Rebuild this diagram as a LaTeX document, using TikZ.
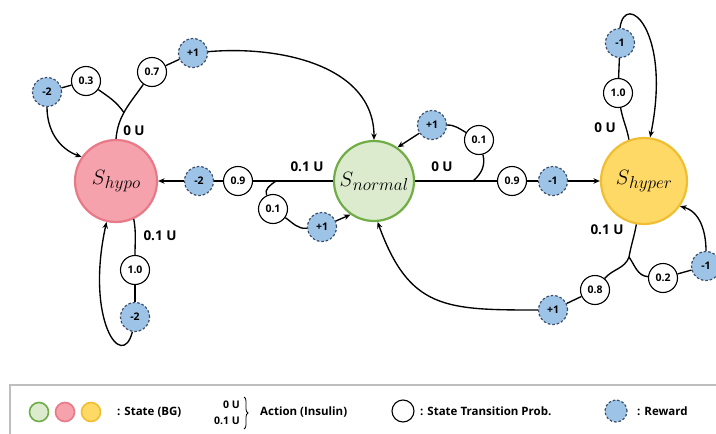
\documentclass[tikz,border=0pt]{standalone}
\usepackage{fontspec}
\setmainfont{Open Sans}
\usetikzlibrary{arrows.meta,decorations.pathreplacing}
\definecolor{hypofill}{RGB}{245,162,172}
\definecolor{hypodraw}{RGB}{232,122,136}
\definecolor{normfill}{RGB}{220,235,206}
\definecolor{normdraw}{RGB}{112,173,71}
\definecolor{hyperfill}{RGB}{255,217,102}
\definecolor{hyperdraw}{RGB}{240,190,50}
\definecolor{rewfill}{RGB}{157,195,230}
\definecolor{rewdraw}{RGB}{60,78,105}
\definecolor{legline}{RGB}{190,190,190}
\newcommand{\stname}[1]{\fontsize{21}{21}\selectfont$S$\kern-0.5pt\raisebox{-4pt}{\fontsize{16}{16}\selectfont$#1$}}
\tikzset{
  stbase/.style={circle, line width=2.2pt, inner sep=0pt},
  hypost/.style={stbase, draw=hypodraw, fill=hypofill, minimum size=82pt},
  normst/.style={stbase, draw=normdraw, fill=normfill, minimum size=80pt},
  hyperst/.style={stbase, draw=hyperdraw, fill=hyperfill, minimum size=86pt},
  prob/.style={circle, draw=black, line width=1.1pt, fill=white, minimum size=29pt, inner sep=0pt, font=\fontsize{10.5}{10.5}\selectfont\bfseries},
  rew/.style={circle, draw=rewdraw, dash pattern=on 2.5pt off 2pt, line width=1.2pt, fill=rewfill, minimum size=29pt, inner sep=0pt, font=\fontsize{10.5}{10.5}\selectfont\bfseries},
  conn/.style={line width=1.35pt, black},
  arr/.style={conn, -{Stealth[length=6.5pt,width=5.5pt]}},
  act/.style={font=\fontsize{13.5}{13.5}\selectfont\bfseries, inner sep=0pt},
  leg/.style={font=\fontsize{11.5}{11.5}\selectfont\bfseries, anchor=west, inner sep=0pt},
  legsm/.style={font=\fontsize{10.5}{10.5}\selectfont\bfseries, anchor=east, inner sep=0pt},
}
\begin{document}
\begin{tikzpicture}[x=1pt,y=-1pt]
\useasboundingbox (0,0) rectangle (716,434);
\clip (0,0) rectangle (716,434);
% states
\node[hypost] (hypo) at (116,181) {\stname{hypo}};
\node[normst] (normal) at (374,181) {\stname{normal}};
\node[hyperst] (hyper) at (644,181) {\stname{hyper}};
% small nodes
\node[rew] (rA) at (47,92) {-2};
\node[prob] (pA) at (86,81) {0.3};
\node[prob] (pB) at (152,72) {0.7};
\node[rew] (rB) at (193,53) {+1};
\node[rew] (rC) at (199,181) {-2};
\node[prob] (pC) at (238,181) {0.9};
\node[prob] (pD) at (273,209) {0.1};
\node[rew] (rD) at (322,227) {+1};
\node[rew] (rE) at (432,125) {+1};
\node[prob] (pE) at (479,140) {0.1};
\node[prob] (pF) at (512,181) {0.9};
\node[rew] (rF) at (553,181) {-1};
\node[prob] (pG) at (618,93) {1.0};
\node[rew] (rG) at (620,43) {-1};
\node[prob] (pH) at (595,290) {0.8};
\node[rew] (rH) at (553,310) {+1};
\node[prob] (pI) at (663,278) {0.2};
\node[rew] (rI) at (706,266) {-1};
\node[prob] (pJ) at (135,270) {1.0};
\node[rew] (rJ) at (135,317) {-2};
% action labels
\node[act] (l1) at (134,131) {0 U};
\node[act] (l2) at (307,167) {0.1 U};
\node[act] (l3) at (442,167) {0 U};
\node[act] (l4) at (605,128) {0 U};
\node[act] (l5) at (607,230) {0.1 U};
\node[act] (l6) at (160,236) {0.1 U};
% hypo, 0 U
\draw[conn] (hypo.north) to[out=85,in=-125] coordinate[pos=0.45] (j1) (pB);
\draw[conn] (j1) to[out=125,in=-35] (pA);
\draw[conn] (pA) -- (rA);
\draw[arr] (rA) to[out=-90,in=160] (hypo.145);
\draw[conn] (pB) -- (rB);
\draw[arr] (rB) to[out=5,in=90] (normal.north);
% normal, 0.1 U
\coordinate (j2) at (276,181);
\draw[conn] (normal.west) -- (pC);
\draw[conn] (pC) -- (rC);
\draw[arr] (rC) -- (hypo.east);
\draw[conn] (j2) to[out=-145,in=115] (pD);
\draw[conn] (pD) to[out=-35,in=185] (rD);
\draw[arr] (rD) -- (normal.-125);
% normal, 0 U
\coordinate (j3) at (473,181);
\draw[conn] (normal.east) -- (pF);
\draw[conn] (pF) -- (rF);
\draw[arr] (rF) -- (hyper.west);
\draw[conn] (j3) to[out=40,in=-75] (pE);
\draw[conn] (pE) to[out=150,in=0] (rE);
\draw[arr] (rE) -- (normal.55);
% hyper, 0 U
\draw[conn] (hyper.110) to[out=100,in=-80] (pG);
\draw[conn] (pG) -- (rG);
\draw[arr] (rG.north) .. controls (625,-10) and (672,30) .. (hyper.82);
% hyper, 0.1 U
\coordinate (j4) at (629,257);
\draw[conn] (hyper.-100) to[out=-100,in=80] (j4);
\draw[conn] (j4) to[out=-110,in=50] (pH);
\draw[conn] (j4) to[out=-55,in=175] (pI);
\draw[conn] (pI) -- (rI);
\draw[arr] (rI) to[out=90,in=-15] (hyper.-35);
\draw[conn] (pH) -- (rH);
\draw[arr] (rH) to[out=180,in=-70,looseness=1.3] (normal.-85);
% hypo, 0.1 U
\draw[conn] (hypo.-65) to[out=-80,in=90] (pJ);
\draw[conn] (pJ) -- (rJ);
\draw[arr] (rJ.-100) .. controls (122,372) and (85,320) .. (hypo.-103);
% legend
\draw[legline, line width=1.2pt] (10,385) rectangle (740,460);
\node[stbase, draw=normdraw, fill=normfill, minimum size=19pt, line width=1.6pt] (lg1) at (39,412) {};
\node[stbase, draw=hypodraw, fill=hypofill, minimum size=19pt, line width=1.6pt] (lg2) at (65,412) {};
\node[stbase, draw=hyperdraw, fill=hyperfill, minimum size=19pt, line width=1.6pt] (lg3) at (91,412) {};
\node[leg] (lgt1) at (117,412) {: State (BG)};
\node[legsm] (lga) at (240,405) {0 U};
\node[legsm] (lgb) at (240,421) {0.1 U};
\draw[line width=0.8pt, decorate, decoration={brace, amplitude=4pt}] (244,397) -- (244,429);
\node[leg] (lgt2) at (260,412) {Action (Insulin)};
\node[prob, minimum size=22pt] (lgp) at (403,411) {};
\node[leg] (lgt3) at (420,411) {: State Transition Prob.};
\node[rew, minimum size=22pt] (lgr) at (616,411) {};
\node[leg] (lgt4) at (637,411) {: Reward};
\end{tikzpicture}
\end{document}
